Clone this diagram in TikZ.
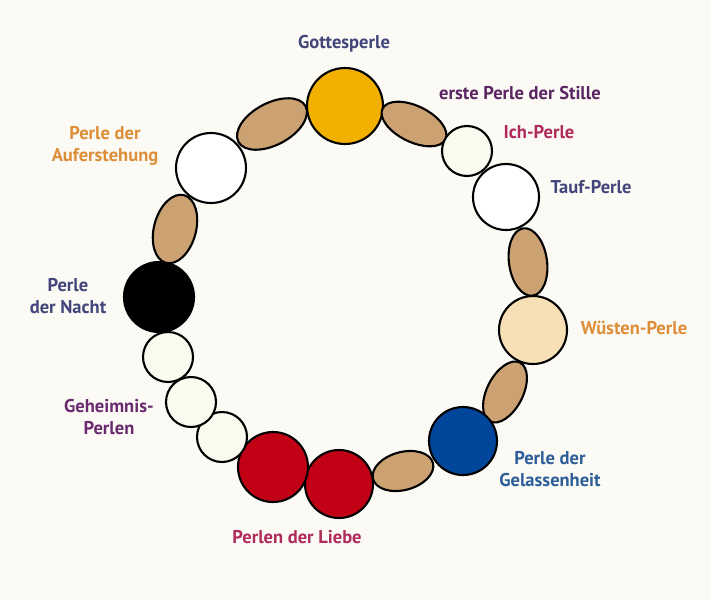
\documentclass[tikz,border=0pt]{standalone}
\usepackage{fontspec}
\setmainfont{PT Sans}
\usetikzlibrary{shapes.geometric}
\definecolor{bgc}{HTML}{FBFAF4}
\definecolor{beadyellow}{HTML}{F2B000}
\definecolor{beadbrown}{HTML}{CCA273}
\definecolor{beadcream}{HTML}{FAFAEE}
\definecolor{beaddesert}{HTML}{F8E0B6}
\definecolor{beadblue}{HTML}{00469B}
\definecolor{beadred}{HTML}{C10016}
\definecolor{txnavy}{HTML}{42467A}
\definecolor{txpurple}{HTML}{5A2562}
\definecolor{txcrimson}{HTML}{B02A5B}
\definecolor{txorange}{HTML}{DD8E38}
\definecolor{txblue}{HTML}{2C5E9A}
\definecolor{txviolet}{HTML}{6A2A70}
\tikzset{
  bead/.style={circle, draw=black, line width=2.1pt, inner sep=0pt, minimum size=#1},
  oval/.style={ellipse, draw=black, line width=2.1pt, inner sep=0pt, fill=beadbrown},
  lbl/.style={font=\fontsize{18.5}{22}\selectfont\bfseries, align=center, inner sep=0pt}
}
\begin{document}
\begin{tikzpicture}[x=1pt,y=-1pt]
\fill[bgc] (0,0) rectangle (711,600);
\useasboundingbox (0,0) rectangle (711,600);
% beads
\node[bead=76pt, fill=beadyellow] (gott) at (345,106) {};
\node[oval, minimum width=76pt, minimum height=42pt, rotate=28] (br1) at (272,124) {};
\node[oval, minimum width=70pt, minimum height=36pt, rotate=-26] (br2) at (414,124) {};
\node[bead=50pt, fill=beadcream] (ich) at (467,151) {};
\node[bead=66pt, fill=white] (tauf) at (506,197) {};
\node[oval, minimum width=38pt, minimum height=68pt, rotate=8] (br3) at (528,262) {};
\node[bead=68pt, fill=beaddesert] (wuest) at (533,330) {};
\node[oval, minimum width=66pt, minimum height=36pt, rotate=63] (br4) at (505,392) {};
\node[bead=68pt, fill=beadblue] (gelas) at (463,441) {};
\node[oval, minimum width=62pt, minimum height=38pt, rotate=15] (br5) at (403,471) {};
\node[bead=68pt, fill=beadred] (lieb2) at (339,484) {};
\node[bead=70pt, fill=beadred] (lieb1) at (273,467) {};
\node[bead=50pt, fill=beadcream] (geh3) at (222,437) {};
\node[bead=50pt, fill=beadcream] (geh2) at (191,402) {};
\node[bead=50pt, fill=beadcream] (geh1) at (168,357) {};
\node[bead=70pt, fill=black] (nacht) at (159,297) {};
\node[oval, minimum width=42pt, minimum height=70pt, rotate=-15] (br6) at (175,229) {};
\node[bead=70pt, fill=white] (aufer) at (211,168) {};
% labels
\node[lbl, text=txnavy] (tgott) at (344,44) {Gottesperle};
\node[lbl, text=txpurple] (tstille) at (520,93) {erste Perle der Stille};
\node[lbl, text=txcrimson] (tich) at (539,132) {Ich-Perle};
\node[lbl, text=txnavy] (ttauf) at (591,187) {Tauf-Perle};
\node[lbl, text=txorange] (twuest) at (634,328) {Wüsten-Perle};
\node[lbl, text=txblue] (tgelas) at (550,469) {Perle der\\Gelassenheit};
\node[lbl, text=txcrimson] (tlieb) at (297,537) {Perlen der Liebe};
\node[lbl, text=txviolet] (tgeh) at (109,417) {Geheimnis-\\Perlen};
\node[lbl, text=txnavy] (tnacht) at (68,296) {Perle\\der Nacht};
\node[lbl, text=txorange] (taufer) at (105,146) {Perle der\\Auferstehung};
\end{tikzpicture}
\end{document}
